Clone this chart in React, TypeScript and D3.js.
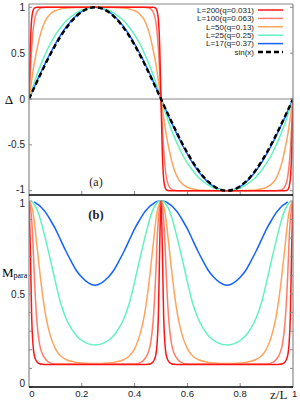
import React from "react";
import * as d3 from "d3";

// quarter-period sample positions (z/L), curves are mirrored over the full period
const zGrid = [0, 0.005, 0.01, 0.015, 0.02, 0.03, 0.04, 0.05, 0.065, 0.08, 0.1, 0.12, 0.14, 0.16, 0.18, 0.2, 0.225, 0.25];

const seriesNames = ["L=200(q=0.031)", "L=100(q=0.063)", "L=50(q=0.13)", "L=25(q=0.25)", "L=17(q=0.37)"];
const seriesColors = ["#ff1414", "#ff7d68", "#ffa45e", "#62f2c0", "#1462ff"];
const mStart = [0, 0, 0, 0.01, 0.02];

// panel (a): gap profile Δ on the first quarter period
const delta200 = [0, 0.58, 0.87, 0.96, 0.99, 1, 1, 1, 1, 1, 1, 1, 1, 1, 1, 1, 1, 1];
const delta100 = [0, 0.3, 0.55, 0.73, 0.85, 0.95, 0.985, 0.996, 1, 1, 1, 1, 1, 1, 1, 1, 1, 1];
const delta50 = [0, 0.1, 0.2, 0.3, 0.39, 0.54, 0.67, 0.77, 0.87, 0.925, 0.963, 0.982, 0.991, 0.996, 0.998, 0.999, 1, 1];
const delta25 = [0, 0.045, 0.09, 0.135, 0.178, 0.262, 0.34, 0.41, 0.51, 0.6, 0.7, 0.78, 0.85, 0.9, 0.94, 0.97, 0.99, 1];
const delta17 = [0, 0.033, 0.066, 0.099, 0.131, 0.196, 0.259, 0.321, 0.411, 0.496, 0.602, 0.698, 0.782, 0.853, 0.911, 0.955, 0.989, 1];
const sinRef = [0, 0.0314, 0.0628, 0.0941, 0.1253, 0.1874, 0.2487, 0.309, 0.3971, 0.4818, 0.5878, 0.6845, 0.7705, 0.8443, 0.9048, 0.9511, 0.9877, 1];

// panel (b): M_para on the first quarter period
const m200 = [1, 0.75, 0.38, 0.23, 0.17, 0.135, 0.125, 0.122, 0.121, 0.121, 0.121, 0.121, 0.121, 0.121, 0.121, 0.121, 0.121, 0.121];
const m100 = [1, 0.97, 0.9, 0.78, 0.6, 0.35, 0.23, 0.18, 0.145, 0.13, 0.124, 0.123, 0.123, 0.123, 0.123, 0.123, 0.123, 0.123];
const m50 = [1, 0.99, 0.97, 0.94, 0.89, 0.76, 0.63, 0.51, 0.37, 0.28, 0.205, 0.167, 0.148, 0.138, 0.132, 0.129, 0.127, 0.127];
const m25 = [1, 1, 0.997, 0.99, 0.98, 0.955, 0.915, 0.865, 0.78, 0.69, 0.565, 0.45, 0.37, 0.315, 0.275, 0.25, 0.232, 0.226];
const m17 = [1, 1, 0.999, 0.997, 0.995, 0.985, 0.975, 0.96, 0.935, 0.9, 0.85, 0.79, 0.73, 0.675, 0.625, 0.59, 0.56, 0.547];

const deltaSeries = [delta200, delta100, delta50, delta25, delta17];
const mSeries = [m200, m100, m50, m25, m17];

const xTicks = [0.2, 0.4, 0.6, 0.8];
const topYTicks = [1, 0.5, 0, -0.5, -1];
const topYLabels = ["1", "0.5", "0", "-0.5", "-1"];
const botYTicks = [0, 0.1, 0.2, 0.3, 0.4, 0.5, 0.6, 0.7, 0.8, 0.9, 1];
const botYLabelVals = [0, 0.5, 1];
const botXLabelVals = [0, 0.2, 0.4, 0.6, 0.8];
const botXLabels = ["0", "0.2", "0.4", "0.6", "0.8"];

type P = [number, number];

function fullPeriod(q: number[], antisym: boolean): P[] {
  const s = antisym ? -1 : 1;
  const pts: P[] = [];
  const n = zGrid.length;
  for (let i = 0; i < n; i++) pts.push([zGrid[i], q[i]]);
  for (let i = n - 2; i >= 0; i--) pts.push([0.5 - zGrid[i], q[i]]);
  for (let i = 1; i < n; i++) pts.push([0.5 + zGrid[i], s * q[i]]);
  for (let i = n - 2; i >= 0; i--) pts.push([1 - zGrid[i], s * q[i]]);
  return pts;
}

const X0 = 29, X1 = 293;
const x = d3.scaleLinear().domain([0, 1]).range([X0, X1]);
const yTop = d3.scaleLinear().domain([-1, 1]).range([190.7, 7.3]);
const yBot = d3.scaleLinear().domain([0, 1]).range([387, 201]);
const TOP = 4, MID = 195, BOT = 387;

const sans = "'Liberation Sans', Arial, sans-serif";
const serif = "'Liberation Serif', 'Times New Roman', serif";

export default function App() {
  const lineTop = d3.line<P>().x(d => x(d[0])).y(d => yTop(d[1])).curve(d3.curveMonotoneX);
  const lineBot = d3.line<P>().x(d => x(d[0])).y(d => yBot(d[1])).curve(d3.curveMonotoneX);
  const order = [4, 3, 2, 1, 0];
  const legendY = (i: number) => 10 + i * 8.4;
  const topLabelY = (t: number) => (t === -1 ? 189 : yTop(t));
  const botLabelY = (t: number) => (t === 0 ? 383 : t === 1 ? 203 : yBot(t));

  return (
    <svg width={300} height={406} style={{ position: "absolute", left: 0, top: 0, background: "#fff" }}>
      <defs>
        <clipPath id="clipTop"><rect x={X0} y={TOP} width={X1 - X0} height={MID - TOP} /></clipPath>
        <clipPath id="clipBot"><rect x={X0} y={MID} width={X1 - X0} height={BOT - MID} /></clipPath>
      </defs>

      {/* ---------- panel (a) ---------- */}
      <line x1={X0} x2={X1} y1={yTop(0)} y2={yTop(0)} stroke="#888" strokeWidth={1.2} />
      <g clipPath="url(#clipTop)">
        {order.map(i => (
          <path key={i} d={lineTop(fullPeriod(deltaSeries[i], true)) || ""} fill="none" stroke={seriesColors[i]} strokeWidth={1.5} />
        ))}
        <path d={lineTop(fullPeriod(sinRef, true)) || ""} fill="none" stroke="#000" strokeWidth={2.4} strokeDasharray="5,3" />
      </g>
      <line x1={X0} x2={X1} y1={TOP} y2={TOP} stroke="#888" strokeWidth={1.2} />
      <line x1={X0} x2={X0} y1={TOP} y2={MID} stroke="#888" strokeWidth={1.2} />
      <line x1={X1} x2={X1} y1={TOP} y2={MID} stroke="#888" strokeWidth={1.2} />
      {topYTicks.map((t, i) => (
        <g key={"ty" + i}>
          <line x1={X0} x2={X0 + 3} y1={yTop(t)} y2={yTop(t)} stroke="#888" />
          <line x1={X1 - 3} x2={X1} y1={yTop(t)} y2={yTop(t)} stroke="#888" />
          <text x={25} y={topLabelY(t)} dy="0.35em" textAnchor="end" fontFamily={sans} fontSize={10} fill="#222">{topYLabels[i]}</text>
        </g>
      ))}
      {xTicks.map(t => (
        <line key={"tx" + t} x1={x(t)} x2={x(t)} y1={MID} y2={MID - 4} stroke="#888" />
      ))}
      <text x={9} y={yTop(0)} dy="0.35em" textAnchor="middle" fontFamily={serif} fontSize={13} fill="#000">Δ</text>
      <text x={96} y={182} dy="0.35em" textAnchor="middle" fontFamily={serif} fontSize={12} fill="#222">(a)</text>

      {/* legend */}
      {seriesNames.map((name, i) => (
        <g key={"lg" + i}>
          <text x={254} y={legendY(i)} dy="0.35em" textAnchor="end" fontFamily={sans} fontSize={8} fill="#222">{name}</text>
          <line x1={258} x2={283} y1={legendY(i)} y2={legendY(i)} stroke={seriesColors[i]} strokeWidth={1.5} />
        </g>
      ))}
      <text x={254} y={legendY(5)} dy="0.35em" textAnchor="end" fontFamily={sans} fontSize={8} fill="#222">sin(x)</text>
      <line x1={258} x2={283} y1={legendY(5)} y2={legendY(5)} stroke="#000" strokeWidth={2.4} strokeDasharray="5,3" />

      {/* ---------- panel (b) ---------- */}
      <g clipPath="url(#clipBot)">
        {order.map(i => (
          <path key={i}
            d={lineBot(fullPeriod(mSeries[i], false).filter(p => p[0] >= mStart[i] - 1e-9 && p[0] <= 1 - mStart[i] + 1e-9)) || ""}
            fill="none" stroke={seriesColors[i]} strokeWidth={1.5} />
        ))}
      </g>
      <line x1={X0} x2={X0} y1={MID} y2={BOT} stroke="#888" strokeWidth={1.2} />
      <line x1={X1} x2={X1} y1={MID} y2={BOT} stroke="#888" strokeWidth={1.2} />
      {botYTicks.map(t => (
        <g key={"by" + t}>
          <line x1={X0} x2={X0 + 3} y1={yBot(t)} y2={yBot(t)} stroke="#888" />
          <line x1={X1 - 3} x2={X1} y1={yBot(t)} y2={yBot(t)} stroke="#888" />
        </g>
      ))}
      {botYLabelVals.map(t => (
        <text key={"byl" + t} x={25} y={botLabelY(t)} dy="0.35em" textAnchor="end" fontFamily={sans} fontSize={10} fill="#222">{t === 0.5 ? "0.5" : String(t)}</text>
      ))}
      {xTicks.map(t => (
        <line key={"bx" + t} x1={x(t)} x2={x(t)} y1={BOT} y2={BOT - 4} stroke="#888" />
      ))}
      {botXLabelVals.map((t, i) => (
        <text key={"bxl" + i} x={t === 0 ? x(t) + 3 : x(t)} y={394} dy="0.35em" textAnchor="middle" fontFamily={sans} fontSize={9.5} fill="#222">{botXLabels[i]}</text>
      ))}
      <text x={270} y={394} dy="0.35em" fontFamily={serif} fontSize={13} fill="#222">z/L</text>
      <text x={292} y={394} dy="0.35em" fontFamily={sans} fontSize={9.5} fill="#222">1</text>
      <text x={2} y={272} dy="0.35em" fontFamily={serif} fontSize={13} fill="#000">M<tspan fontSize={8} dy="1">para</tspan></text>
      <text x={96} y={215} dy="0.35em" textAnchor="middle" fontFamily={serif} fontSize={12.5} fontWeight="bold" fill="#222">(b)</text>

      {/* black separators */}
      <line x1={X0} x2={X1} y1={MID} y2={MID} stroke="#000" strokeWidth={1.6} />
      <line x1={X0} x2={X1} y1={BOT} y2={BOT} stroke="#000" strokeWidth={1.6} />
    </svg>
  );
}
